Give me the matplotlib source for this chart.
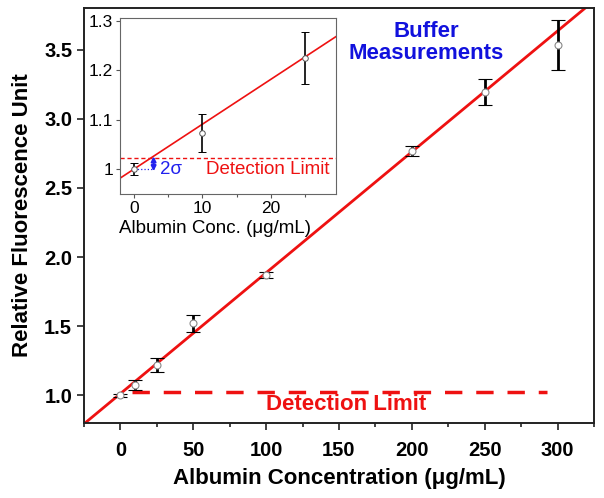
import numpy as np
import matplotlib.pyplot as plt
from matplotlib.ticker import MultipleLocator

plt.rcParams['font.family'] = ['Liberation Sans', 'DejaVu Sans']

# main data
conc = [0, 10, 25, 50, 100, 200, 250, 300]
fluor = [1.0, 1.075, 1.22, 1.52, 1.87, 2.765, 3.19, 3.53]
fluor_err = [0.012, 0.038, 0.05, 0.062, 0.02, 0.038, 0.094, 0.18]

# linear fit shown on the plots
fit_slope = 0.00874
fit_icpt = 1.012
inset_slope = 0.00907
inset_icpt = 1.0

# detection limit
det_limit = 1.022
det_x = [8, 293]

# inset data (low concentrations)
in_conc = [0, 10, 25]
in_fluor = [1.0, 1.073, 1.224]
in_err = [0.012, 0.038, 0.052]

fig = plt.figure(figsize=(6.04, 4.98), dpi=100)
ax = fig.add_axes([0.139, 0.1506, 0.8444, 0.8333])

xl = np.array([-25, 325])
ax.plot(xl, fit_icpt + fit_slope * xl, color='#ee1111', lw=2, zorder=2)
ax.errorbar(conc, fluor, yerr=fluor_err, fmt='o', mfc='white', mec='#888888',
            ms=5, mew=0.8, ecolor='black', elinewidth=2, capsize=5,
            capthick=2, zorder=3)
ax.plot(det_x, [det_limit, det_limit], color='#ee1111', lw=2.5,
        dashes=(5, 4), zorder=2)
ax.text(155, 0.935, 'Detection Limit', color='#ee1111', fontsize=16,
        fontweight='bold', ha='center', va='center')
ax.text(210, 3.55, 'Buffer\nMeasurements', color='#1111dd', fontsize=16,
        fontweight='bold', ha='center', va='center', linespacing=1.1)

ax.set_xlim(-25, 325)
ax.set_ylim(0.8, 3.8)
ax.set_xticks([0, 50, 100, 150, 200, 250, 300])
ax.set_yticks([1.0, 1.5, 2.0, 2.5, 3.0, 3.5])
ax.set_yticklabels(['1.0', '1.5', '2.0', '2.5', '3.0', '3.5'])
ax.xaxis.set_minor_locator(MultipleLocator(25))
ax.tick_params(which='both', direction='out', width=1.2, color='#222222')
ax.tick_params(which='major', length=5, labelsize=14.5)
ax.tick_params(axis='x', which='major', pad=8)
ax.tick_params(which='minor', length=3)
for lab in ax.get_xticklabels() + ax.get_yticklabels():
    lab.set_fontweight('bold')
for s in ax.spines.values():
    s.set_linewidth(1.4)
    s.set_color('#222222')
ax.set_xlabel('Albumin Concentration (μg/mL)', fontsize=16, fontweight='bold',
              labelpad=6)
ax.set_ylabel('Relative Fluorescence Unit', fontsize=16, fontweight='bold',
              labelpad=8)

# inset
ins = fig.add_axes([0.1987, 0.6104, 0.3576, 0.3534])
xi = np.array([-2, 29.5])
ins.plot(xi, inset_icpt + inset_slope * xi, color='#ee1111', lw=1.2, zorder=2)
ins.errorbar(in_conc, in_fluor, yerr=in_err, fmt='o', mfc='white',
             mec='#555555', ms=4, mew=0.7, ecolor='black', elinewidth=1.2,
             capsize=3, capthick=1.2, zorder=3)
ins.axhline(det_limit, color='#ee1111', lw=1, dashes=(3, 2))
ins.text(10.6, 0.999, 'Detection Limit', color='#ee1111', fontsize=13.5,
         ha='left', va='center')
ins.plot([0, 2.9], [1.0, 1.0], color='#2222ee', lw=0.9, ls=':')
ins.annotate('', xy=(2.9, det_limit + 0.004), xytext=(2.9, 0.996),
             arrowprops=dict(arrowstyle='<|-|>', color='#2222ee', lw=1.5,
                             mutation_scale=7, shrinkA=0, shrinkB=0))
ins.text(3.8, 1.0, '2σ', color='#2222ee', fontsize=13.5, ha='left', va='center')

ins.set_xlim(-2, 29.5)
ins.set_ylim(0.95, 1.305)
ins.set_xticks([0, 10, 20])
ins.set_yticks([1.0, 1.1, 1.2, 1.3])
ins.set_yticklabels(['1', '1.1', '1.2', '1.3'])
ins.xaxis.set_minor_locator(MultipleLocator(5))
ins.tick_params(which='both', direction='out', color='#555555', width=0.8)
ins.tick_params(which='major', length=3, labelsize=12.5, pad=2)
ins.tick_params(which='minor', length=2)
for s in ins.spines.values():
    s.set_linewidth(0.8)
    s.set_color('#666666')
ins.set_xlabel('Albumin Conc. (μg/mL)', fontsize=13.5)
ins.xaxis.set_label_coords(0.44, -0.145)

fig.savefig('out.png', dpi=100)
